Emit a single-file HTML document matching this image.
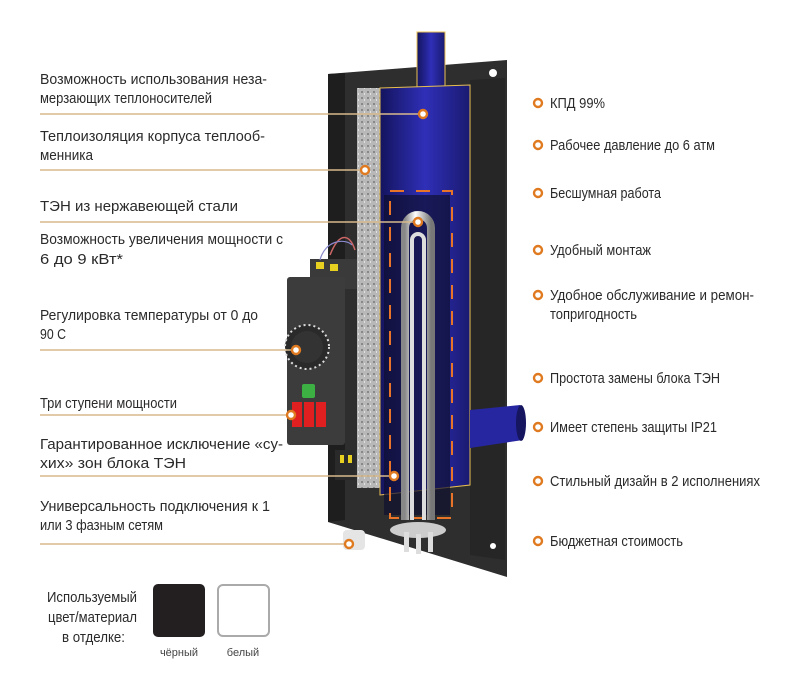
<!DOCTYPE html>
<html><head><meta charset="utf-8"><style>
html,body{margin:0;padding:0;background:#fff;}
svg{display:block;}
text{font-family:"Liberation Sans Narrow","Liberation Sans",sans-serif;font-size:15px;fill:#2a2a2a;}
.l{stroke:#d8b98c;stroke-width:1.6;}
.d{fill:#fff;stroke:#e07a20;stroke-width:2.4;}
</style></head><body>
<svg width="800" height="679" viewBox="0 0 800 679" xmlns="http://www.w3.org/2000/svg">
<defs>
<linearGradient id="tank" x1="0" x2="1">
<stop offset="0" stop-color="#14145e"/><stop offset="0.5" stop-color="#2f2fb8"/><stop offset="1" stop-color="#1a1a70"/>
</linearGradient>
<linearGradient id="tube" x1="0" x2="1">
<stop offset="0" stop-color="#888"/><stop offset="0.4" stop-color="#fff"/><stop offset="1" stop-color="#777"/>
</linearGradient>
<pattern id="ins" width="6" height="6" patternUnits="userSpaceOnUse">
<rect width="6" height="6" fill="#b8b8b8"/><rect x="1" y="1" width="2" height="2" fill="#888"/><rect x="4" y="3" width="1" height="2" fill="#e0e0e0"/>
</pattern>
</defs>

<polygon points="328,74 507,60 507,577 328,522" fill="#2e2e2e"/>
<polygon points="328,74 345,73 345,520 328,522" fill="#1e1e1e"/>
<polygon points="470,80 505,78 505,560 470,555" fill="#262626"/>
<circle cx="344" cy="66" r="4" fill="#fff"/>
<circle cx="493" cy="73" r="4" fill="#fff"/>
<circle cx="493" cy="546" r="3" fill="#fff"/>
<rect x="357" y="88" width="23" height="400" fill="url(#ins)"/>
<rect x="417" y="32" width="28" height="56" fill="url(#tank)" stroke="#e8c050" stroke-width="1"/>
<path d="M380,88 L470,85 L470,485 L380,495 Z" fill="url(#tank)" stroke="#e8c050" stroke-width="1"/>
<path d="M470,410 L520,405 L523,440 L470,448 Z" fill="#2626a0"/>
<ellipse cx="521" cy="423" rx="5" ry="18" fill="#151560"/>
<rect x="384" y="195" width="66" height="320" fill="#101030" opacity="0.7"/>
<rect x="390" y="191" width="62" height="327" fill="none" stroke="#e8742a" stroke-width="2" stroke-dasharray="14,12"/>
<path d="M405,520 L405,228 A13,13 0 0 1 431,228 L431,520" fill="none" stroke="url(#tube)" stroke-width="8"/>
<path d="M412,520 L412,240 A6,6 0 0 1 424,240 L424,520" fill="none" stroke="#ddd" stroke-width="4"/>
<ellipse cx="418" cy="530" rx="28" ry="8" fill="#ccc"/>
<rect x="404" y="532" width="5" height="20" fill="#ddd"/><rect x="416" y="534" width="5" height="20" fill="#ddd"/><rect x="428" y="532" width="5" height="20" fill="#ddd"/>
<rect x="343" y="530" width="22" height="20" rx="4" fill="#e5e5e5"/>
<rect x="310" y="259" width="47" height="30" fill="#3a3a3a"/>
<rect x="316" y="262" width="8" height="7" fill="#e8d020"/><rect x="330" y="264" width="8" height="7" fill="#e8d020"/>
<path d="M330,255 C340,230 350,235 355,250" fill="none" stroke="#c66" stroke-width="1.5"/>
<path d="M320,260 C325,240 345,238 352,245" fill="none" stroke="#88c" stroke-width="1.2"/>
<rect x="287" y="277" width="58" height="168" rx="3" fill="#3c3c3c"/>
<circle cx="307" cy="347" r="22" fill="#2a2a2a" stroke="#ddd" stroke-width="2" stroke-dasharray="2,3"/>
<circle cx="307" cy="347" r="16" fill="#333"/>
<rect x="302" y="384" width="13" height="14" rx="2" fill="#3cb043"/>
<rect x="292" y="402" width="10" height="25" fill="#e02020"/><rect x="304" y="402" width="10" height="25" fill="#e02020"/><rect x="316" y="402" width="10" height="25" fill="#e02020"/>
<rect x="335" y="450" width="20" height="30" fill="#2a2a2a"/>
<rect x="340" y="455" width="4" height="8" fill="#e8d020"/><rect x="348" y="455" width="4" height="8" fill="#e8d020"/>

<text x="40" y="84" textLength="227" lengthAdjust="spacingAndGlyphs">Возможность использования неза-</text>
<text x="40" y="103" textLength="172" lengthAdjust="spacingAndGlyphs">мерзающих теплоносителей</text>
<line class="l" x1="40" y1="114" x2="423" y2="114"/><circle class="d" cx="423" cy="114" r="4"/>
<text x="40" y="141" textLength="225" lengthAdjust="spacingAndGlyphs">Теплоизоляция корпуса теплооб-</text>
<text x="40" y="160" textLength="53" lengthAdjust="spacingAndGlyphs">менника</text>
<line class="l" x1="40" y1="170" x2="365" y2="170"/><circle class="d" cx="365" cy="170" r="4"/>
<text x="40" y="211" textLength="198" lengthAdjust="spacingAndGlyphs">ТЭН из нержавеющей стали</text>
<line class="l" x1="40" y1="222" x2="418" y2="222"/><circle class="d" cx="418" cy="222" r="4"/>
<text x="40" y="244" textLength="243" lengthAdjust="spacingAndGlyphs">Возможность увеличения мощности с</text>
<text x="40" y="264" textLength="83" lengthAdjust="spacingAndGlyphs">6 до 9 кВт*</text>
<text x="40" y="320" textLength="218" lengthAdjust="spacingAndGlyphs">Регулировка температуры от 0 до</text>
<text x="40" y="339" textLength="26" lengthAdjust="spacingAndGlyphs">90 С</text>
<line class="l" x1="40" y1="350" x2="296" y2="350"/><circle class="d" cx="296" cy="350" r="4"/>
<text x="40" y="408" textLength="137" lengthAdjust="spacingAndGlyphs">Три ступени мощности</text>
<line class="l" x1="40" y1="415" x2="291" y2="415"/><circle class="d" cx="291" cy="415" r="4"/>
<text x="40" y="449" textLength="243" lengthAdjust="spacingAndGlyphs">Гарантированное исключение «су-</text>
<text x="40" y="468" textLength="146" lengthAdjust="spacingAndGlyphs">хих» зон блока ТЭН</text>
<line class="l" x1="40" y1="476" x2="394" y2="476"/><circle class="d" cx="394" cy="476" r="4"/>
<text x="40" y="511" textLength="230" lengthAdjust="spacingAndGlyphs">Универсальность подключения к 1</text>
<text x="40" y="530" textLength="123" lengthAdjust="spacingAndGlyphs">или 3 фазным сетям</text>
<line class="l" x1="40" y1="544" x2="349" y2="544"/><circle class="d" cx="349" cy="544" r="4"/>

<circle class="d" cx="538" cy="103" r="4"/><text x="550" y="108" textLength="55" lengthAdjust="spacingAndGlyphs">КПД 99%</text>
<circle class="d" cx="538" cy="145" r="4"/><text x="550" y="150" textLength="165" lengthAdjust="spacingAndGlyphs">Рабочее давление до 6 атм</text>
<circle class="d" cx="538" cy="193" r="4"/><text x="550" y="198" textLength="111" lengthAdjust="spacingAndGlyphs">Бесшумная работа</text>
<circle class="d" cx="538" cy="250" r="4"/><text x="550" y="255" textLength="101" lengthAdjust="spacingAndGlyphs">Удобный монтаж</text>
<circle class="d" cx="538" cy="295" r="4"/><text x="550" y="300" textLength="204" lengthAdjust="spacingAndGlyphs">Удобное обслуживание и ремон-</text>
<text x="550" y="319" textLength="87" lengthAdjust="spacingAndGlyphs">топригодность</text>
<circle class="d" cx="538" cy="378" r="4"/><text x="550" y="383" textLength="170" lengthAdjust="spacingAndGlyphs">Простота замены блока ТЭН</text>
<circle class="d" cx="538" cy="427" r="4"/><text x="550" y="432" textLength="167" lengthAdjust="spacingAndGlyphs">Имеет степень защиты IP21</text>
<circle class="d" cx="538" cy="481" r="4"/><text x="550" y="486" textLength="210" lengthAdjust="spacingAndGlyphs">Стильный дизайн в 2 исполнениях</text>
<circle class="d" cx="538" cy="541" r="4"/><text x="550" y="546" textLength="133" lengthAdjust="spacingAndGlyphs">Бюджетная стоимость</text>

<g style="font-size:15px">
<text x="137" y="602" text-anchor="end" textLength="90" lengthAdjust="spacingAndGlyphs">Используемый</text>
<text x="137" y="622" text-anchor="end" textLength="89" lengthAdjust="spacingAndGlyphs">цвет/материал</text>
<text x="125" y="642" text-anchor="end" textLength="63" lengthAdjust="spacingAndGlyphs">в отделке:</text>
</g>
<rect x="153" y="584" width="52" height="53" rx="5" fill="#231f20"/>
<rect x="218" y="585" width="51" height="51" rx="5" fill="#fff" stroke="#aaa" stroke-width="2"/>
<text x="179" y="656" text-anchor="middle" style="font-size:11px;fill:#444">чёрный</text>
<text x="243" y="656" text-anchor="middle" style="font-size:11px;fill:#444">белый</text>
</svg>
</body></html>
